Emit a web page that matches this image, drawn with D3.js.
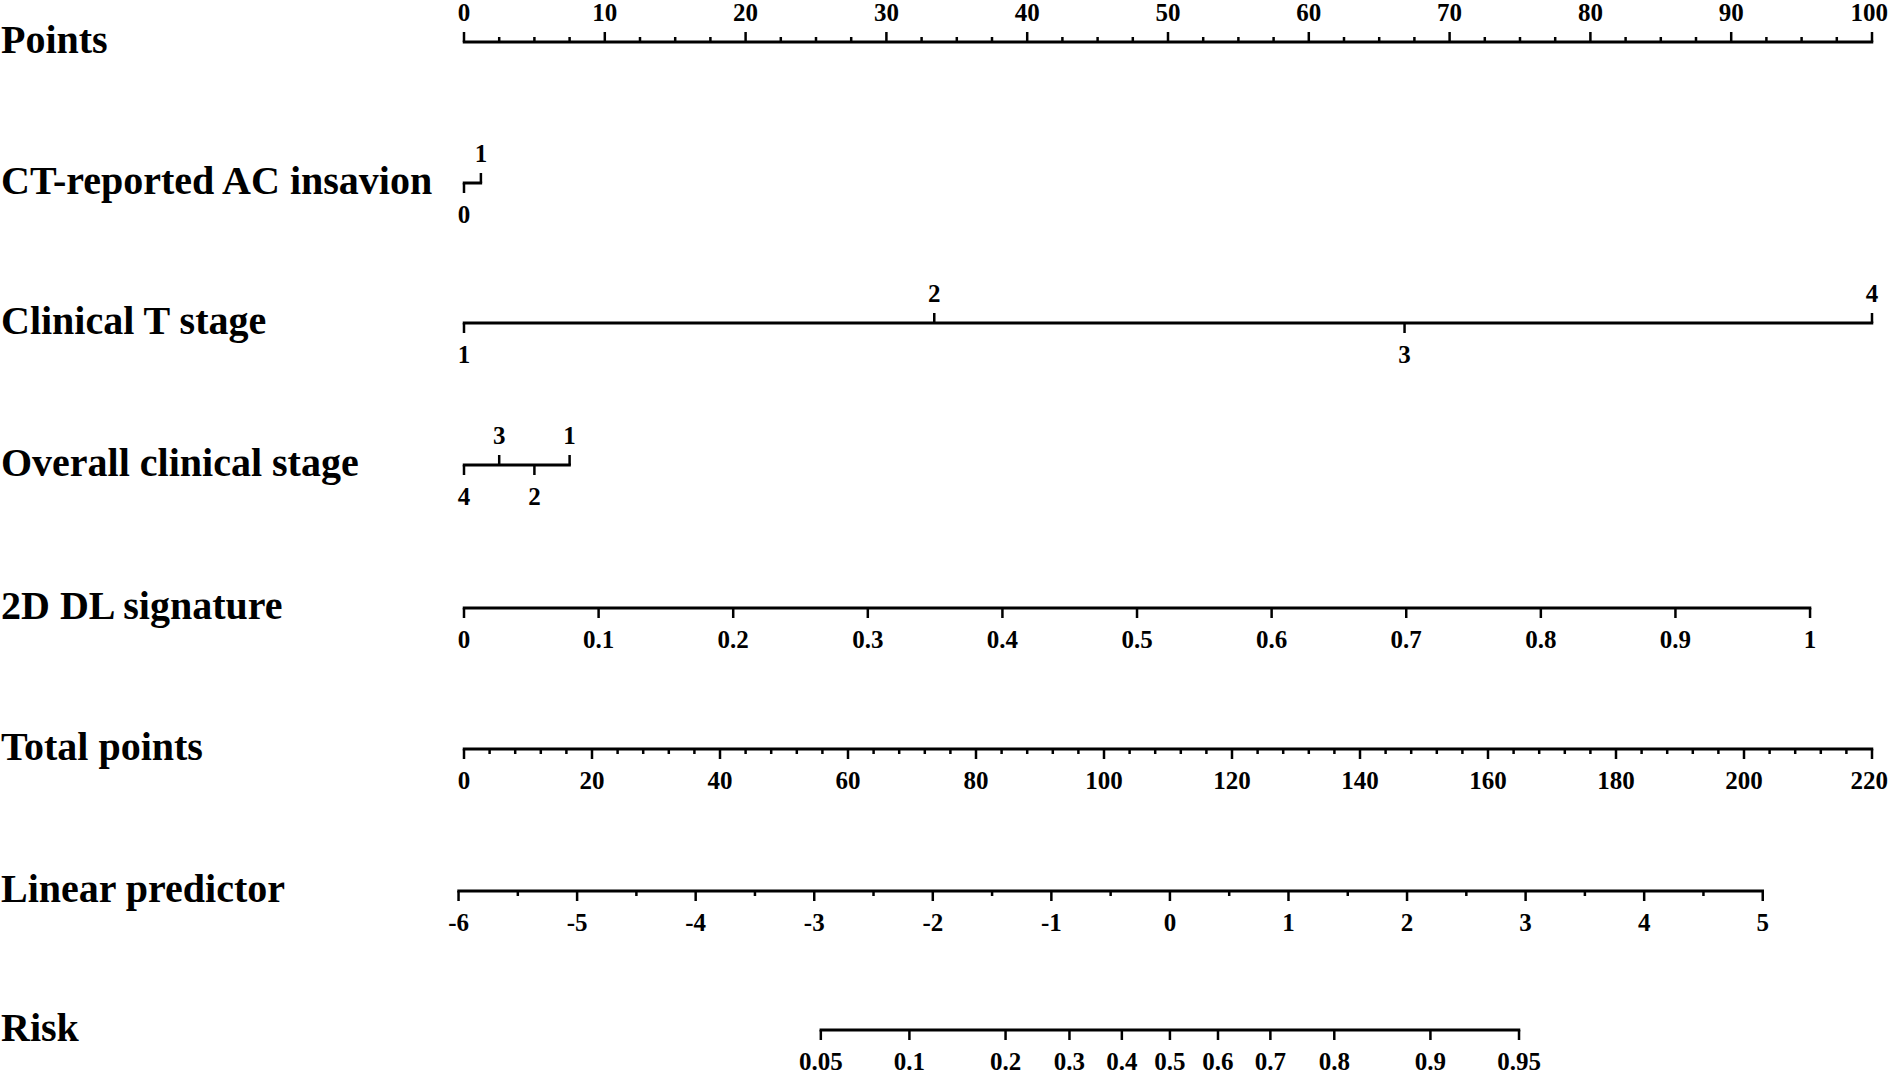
<!DOCTYPE html>
<html><head><meta charset="utf-8">
<script src="https://cdn.jsdelivr.net/npm/d3@7"></script>
<style>
html,body{margin:0;padding:0;background:#fff;}
text{font-family:"Liberation Serif","Times New Roman",serif;font-weight:bold;fill:#000;}
</style></head>
<body>
<svg id="chart" width="1889" height="1076"></svg>
<script>
// ---------- data ----------
const rowLabels = ["Points","CT-reported AC insavion","Clinical T stage","Overall clinical stage","2D DL signature","Total points","Linear predictor","Risk"];
const pointsTicks = d3.range(0, 101, 10);
const ctLevels = ["0","1"];
const ctPoints = [0, 1.2];
const ctSide = ["below","above"];
const tLevels = ["1","2","3","4"];
const tPoints = [0, 33.4, 66.8, 100];
const tSide = ["below","above","below","above"];
const ocLevels = ["4","3","2","1"];
const ocPoints = [0, 2.5, 5.0, 7.5];
const ocSide = ["below","above","below","above"];
const dlTicks = [0,0.1,0.2,0.3,0.4,0.5,0.6,0.7,0.8,0.9,1];
const dlMaxPoints = 95.6;
const totalTicks = d3.range(0, 221, 20);
const lpTicks = [-6,-5,-4,-3,-2,-1,0,1,2,3,4,5];
const lpIntercept = -5.954, lpSlope = 0.05398; // LP = intercept + slope * total points
const riskTicks = [0.05,0.1,0.2,0.3,0.4,0.5,0.6,0.7,0.8,0.9,0.95];

// ---------- layout ----------
const W = 1889;
const svg = d3.select("#chart");
const x0 = 464, x1 = 1872;
const rowY = [42, 183, 323, 465, 608, 749, 891, 1030];
const pts = d3.scaleLinear().domain([0,100]).range([x0,x1]);
const tot = d3.scaleLinear().domain([0,220]).range([x0,x1]);
const lpX = v => tot((v - lpIntercept)/lpSlope);
const logit = p => Math.log(p/(1-p));

const lw = 3, tw = 2.5, major = 10, minor = 5;
const fmt = d => String(+d.toFixed(2));

// row labels
svg.selectAll("text.row").data(rowLabels).join("text")
  .attr("class","row").attr("x",1).attr("y",(d,i)=>rowY[i]+11)
  .attr("font-size",40).text(d=>d);

function hline(y, xa, xb){
  svg.append("line").attr("x1",xa-tw/2).attr("x2",xb+tw/2).attr("y1",y).attr("y2",y)
    .attr("stroke","#000").attr("stroke-width",lw);
}
function tick(x, y, len, dir){ // dir -1 up, +1 down
  svg.append("line").attr("x1",x).attr("x2",x).attr("y1",y).attr("y2",y+dir*len)
    .attr("stroke","#000").attr("stroke-width",tw);
}
function label(x, y, txt, side){
  const t = svg.append("text").attr("x",x).attr("y", side==="above" ? y-21 : y+40)
    .attr("text-anchor","middle").attr("font-size",25).text(txt);
  const w = t.node().getComputedTextLength();
  if (x + w/2 > W - 1) t.attr("x", W - 1 - w/2);
}

// Points axis (ticks up)
{
  const y = rowY[0];
  hline(y, pts(0), pts(100));
  d3.range(0, 100.01, 2.5).forEach(v=>{
    const isMajor = Math.abs(v % 10) < 1e-9;
    tick(pts(v), y, isMajor?major:minor, -1);
  });
  pointsTicks.forEach(v=>label(pts(v), y, v, "above"));
}
// Categorical axes
function catAxis(row, levels, points, sides){
  const y = rowY[row];
  hline(y, pts(d3.min(points)), pts(d3.max(points)));
  levels.forEach((lv,i)=>{
    tick(pts(points[i]), y, major, sides[i]==="above"?-1:1);
    label(pts(points[i]), y, lv, sides[i]);
  });
}
catAxis(1, ctLevels, ctPoints, ctSide);
catAxis(2, tLevels, tPoints, tSide);
catAxis(3, ocLevels, ocPoints, ocSide);

// 2D DL signature
{
  const y = rowY[4];
  const dx = v => pts(v*dlMaxPoints);
  hline(y, dx(0), dx(1));
  dlTicks.forEach(v=>{ tick(dx(v), y, major, 1); label(dx(v), y, fmt(v), "below"); });
}
// Total points
{
  const y = rowY[5];
  hline(y, tot(0), tot(220));
  d3.range(0, 220.01, 4).forEach(v=>{
    const isMajor = v % 20 === 0;
    tick(tot(v), y, isMajor?major:minor, 1);
  });
  totalTicks.forEach(v=>label(tot(v), y, v, "below"));
}
// Linear predictor
{
  const y = rowY[6];
  hline(y, lpX(-6), lpX(5));
  d3.range(-6, 5.01, 0.5).forEach(v=>{
    const isMajor = Math.abs(v - Math.round(v)) < 1e-9;
    tick(lpX(v), y, isMajor?major:minor, 1);
  });
  lpTicks.forEach(v=>label(lpX(v), y, v, "below"));
}
// Risk
{
  const y = rowY[7];
  const rx = p => lpX(logit(p));
  hline(y, rx(0.05), rx(0.95));
  riskTicks.forEach(p=>{ tick(rx(p), y, major, 1); label(rx(p), y, fmt(p), "below"); });
}
</script>
</body></html>
